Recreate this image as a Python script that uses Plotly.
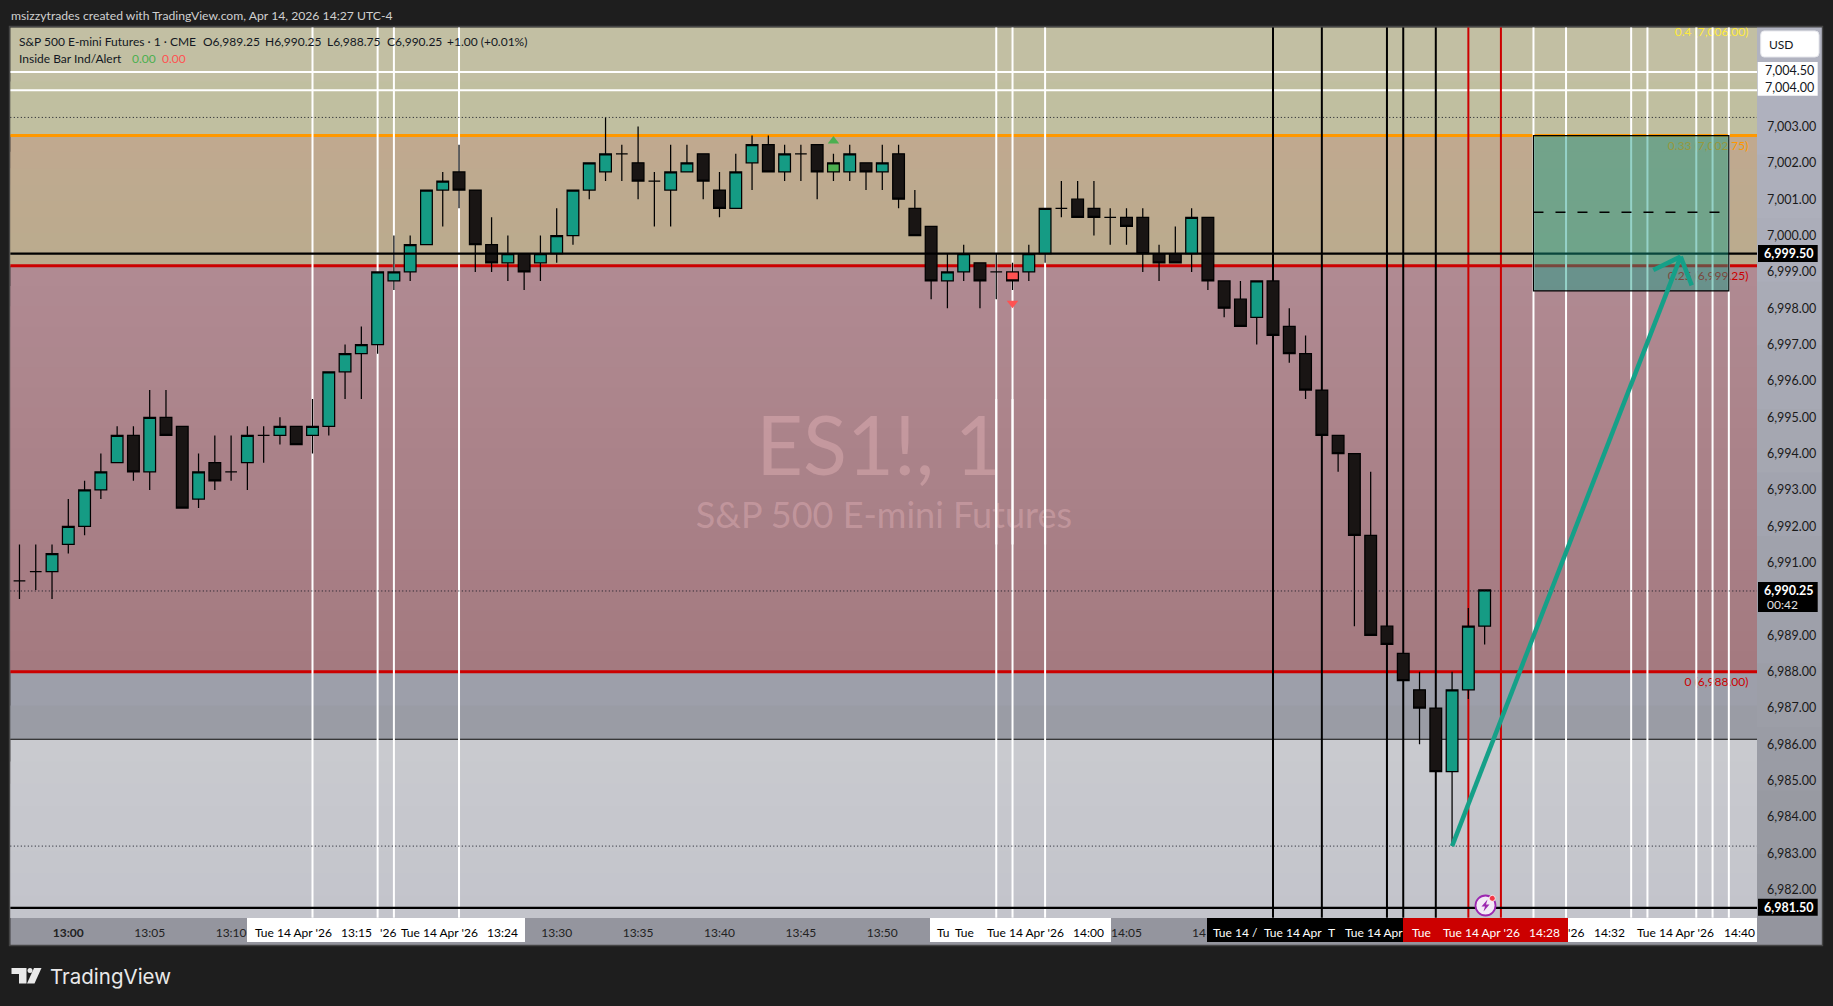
import plotly.graph_objects as go

W, H = 1833, 1006
PANE_L, PANE_R, PANE_T, PANE_B = 10.3, 1757.0, 27.3, 917.7
X_RANGE = [-3.563, 103.73]
Y_RANGE = [6981.23, 7005.73]
FONT = "Lato"

# ---------- candles (minutes after 13:00) ----------
minutes = list(range(-3, 88))
opens = [6990.5, 6990.75, 6990.75,
         6991.5, 6992.0, 6993.0, 6993.75, 6994.5, 6993.5, 6995.0, 6994.75, 6992.75, 6993.75,
         6993.5, 6993.75, 6994.5, 6994.5, 6994.75, 6994.5, 6994.75, 6996.25, 6996.75, 6997.0,
         6998.75, 6999.0, 6999.75, 7001.25, 7001.75, 7001.25, 6999.75, 6999.25, 6999.5, 6999.25,
         6999.5, 7000.0, 7001.25, 7001.75, 7002.25, 7002.0, 7001.5, 7001.25, 7001.75, 7002.25,
         7001.25, 7000.75, 7002.0, 7002.5, 7001.75, 7002.25, 7002.5, 7001.75, 7001.75, 7002.0,
         7001.75, 7002.25, 7000.75, 7000.25, 6998.75, 6999.0, 6999.25, 6999.0, 6999.0, 6999.0,
         6999.5, 7000.75, 7001.0, 7000.75, 7000.5, 7000.5, 7000.5, 6999.5, 6999.5, 6999.5,
         7000.5, 6998.75, 6998.25, 6997.75, 6998.75, 6997.5, 6996.75, 6995.75, 6994.5, 6994.0,
         6991.75, 6989.25, 6988.5, 6987.5, 6987.0, 6985.25, 6987.5, 6989.25]
highs = [6991.5, 6991.5, 6991.5,
         6992.75, 6993.25, 6994.0, 6994.75, 6994.75, 6995.75, 6995.75, 6994.75, 6994.0, 6994.5,
         6994.5, 6994.75, 6994.75, 6995.0, 6994.75, 6995.5, 6996.25, 6997.0, 6997.5, 6999.0,
         7000.0, 7000.0, 7001.25, 7001.75, 7002.5, 7001.25, 7000.5, 7000.0, 6999.5, 7000.0,
         7000.75, 7001.25, 7002.0, 7003.25, 7002.5, 7003.0, 7001.75, 7002.5, 7002.5, 7002.25,
         7001.75, 7002.25, 7002.75, 7002.75, 7002.5, 7002.5, 7002.5, 7002.25, 7002.5, 7002.0,
         7002.5, 7002.5, 7001.25, 7000.25, 6999.5, 6999.75, 6999.25, 6999.5, 6999.25, 6999.75,
         7000.75, 7001.5, 7001.5, 7001.5, 7000.75, 7000.75, 7000.75, 6999.75, 7000.25, 7000.75,
         7000.5, 6998.75, 6998.75, 6998.75, 6998.75, 6998.0, 6997.25, 6995.75, 6994.5, 6994.0,
         6993.5, 6989.25, 6988.5, 6988.0, 6987.0, 6988.0, 6989.75, 6990.25]
lows = [6990.0, 6990.25, 6990.0,
        6991.25, 6991.75, 6992.75, 6993.75, 6993.25, 6993.0, 6994.5, 6992.5, 6992.5, 6993.0,
        6993.25, 6993.0, 6993.75, 6994.25, 6994.25, 6994.0, 6994.5, 6995.5, 6995.5, 6996.75,
        6998.5, 6998.75, 6999.75, 7000.25, 7000.75, 6999.0, 6999.0, 6998.75, 6998.5, 6998.75,
        6999.25, 6999.75, 7001.0, 7001.5, 7001.5, 7001.0, 7000.25, 7000.25, 7001.75, 7001.0,
        7000.5, 7000.75, 7001.25, 7001.75, 7001.5, 7001.5, 7001.0, 7001.5, 7001.5, 7001.25,
        7001.25, 7000.75, 7000.0, 6998.25, 6998.0, 6998.75, 6998.0, 6998.25, 6998.5, 6998.75,
        6999.25, 7000.5, 7000.5, 7000.0, 6999.75, 6999.75, 6999.0, 6998.75, 6999.25, 6999.0,
        6998.5, 6997.75, 6997.5, 6997.0, 6997.25, 6996.5, 6995.5, 6994.5, 6993.5, 6989.25,
        6989.0, 6988.75, 6987.75, 6986.0, 6985.25, 6983.2, 6987.25, 6988.75]
closes = [6990.5, 6990.75, 6991.25,
          6992.0, 6993.0, 6993.5, 6994.5, 6993.5, 6995.0, 6994.5, 6992.5, 6993.5, 6993.25,
          6993.5, 6994.5, 6994.5, 6994.75, 6994.25, 6994.75, 6996.25, 6996.75, 6997.0, 6999.0,
          6999.0, 6999.75, 7001.25, 7001.5, 7001.25, 6999.75, 6999.25, 6999.5, 6999.0, 6999.5,
          7000.0, 7001.25, 7002.0, 7002.25, 7002.25, 7001.5, 7001.5, 7001.75, 7002.0, 7001.5,
          7000.75, 7001.75, 7002.5, 7001.75, 7002.25, 7002.25, 7001.75, 7002.0, 7002.25, 7001.75,
          7002.0, 7001.0, 7000.0, 6998.75, 6999.0, 6999.5, 6998.75, 6999.0, 6998.75, 6999.5,
          7000.75, 7000.75, 7000.5, 7000.5, 7000.5, 7000.25, 6999.5, 6999.25, 6999.25, 7000.5,
          6998.75, 6998.0, 6997.5, 6998.75, 6997.25, 6996.75, 6995.75, 6994.5, 6994.0, 6991.75,
          6989.0, 6988.75, 6987.75, 6987.0, 6985.25, 6987.5, 6989.25, 6990.25]
green_bar_minute = 47
red_bar_minute = 58

# ---------- level lines ----------
level_orange = 7002.75
level_red_hi = 6999.17
level_red_lo = 6988.0
level_thin = 6986.14
level_black_hi = 6999.5
level_black_lo = 6981.5
levels_white = [7004.5, 7004.0]
levels_dotted = [7003.25, 6990.22, 6983.2]

verticals_white_left = [15, 19, 20, 24, 57, 58, 60]
verticals_black = [74, 77, 81, 82, 84]
verticals_red = [86, 88]
verticals_white_right = [90, 92, 96, 97, 100, 101, 102]

zone_x = [90, 102]
zone_y = [7002.75, 6998.48]
zone_mid = 7000.64
zone_mid_end = 101.5
arrow_x = [85.0, 99.04]
arrow_y = [6983.2, 6999.42]
head_x = [97.36, 99.72]
head_y = [6999.05, 6998.63]

# ---------- labels ----------
price_ticks = [6982, 6983, 6984, 6985, 6986, 6987, 6988, 6989, 6991, 6992, 6993, 6994, 6995,
               6996, 6997, 6998, 6999, 7000, 7001, 7002, 7003]
time_tick_vals = [0, 5, 10, 30, 35, 40, 45, 50, 65]
time_tick_text = ["<b>13:00</b>", "13:05", "13:10", "13:30", "13:35", "13:40", "13:45", "13:50", "14:05"]
fib_text = ["0.4 (7,006.00)", "0.33 (7,002.75)", "0.25 (6,999.25)", "0 (6,988.00)"]
fib_y = [7005.57, 7002.44, 6998.85, 6987.69]
fib_color = ["#FFEB3B", "#FF9800", "#CC0000", "#CC0000"]
fib_label_x = 103.2
watermark_text = ["ES1!, 1", "S&P 500 E-mini Futures"]
watermark_x = [49.8, 50.1]
watermark_y = [6993.97, 6992.2]
watermark_size = [81, 36]

white_time = [("Tue 14 Apr '26", 293), ("13:15", 356), ("'26", 387.5), ("Tue 14 Apr '26", 439), ("13:24", 502),
              ("Tu", 943), ("Tue", 964), ("Tue 14 Apr '26", 1025), ("14:00", 1088),
              ("'26", 1575.6), ("14:32", 1609.5), ("Tue 14 Apr '26", 1675.6), ("14:40", 1739)]
inv_time = [("Tue 14 /", 1235), ("Tue 14 Apr", 1293), ("T", 1331.5), ("Tue 14 Apr", 1374),
            ("Tue", 1421), ("Tue 14 Apr '26", 1481.5), ("14:28", 1544.6)]
header_parts = [("S&P 500 E-mini Futures · 1 · CME", 16.5), ("O6,989.25", 201), ("H6,990.25", 263),
                ("L6,988.75", 324.5), ("C6,990.25", 384.5), ("+1.00 (+0.01%)", 445)]


def PX(x):
    return x / W


def PY(y):
    return 1 - y / H


def mix(a, b, t):
    return "rgb(%d,%d,%d)" % tuple(round(a[i] + (b[i] - a[i]) * t) for i in range(3))


shapes, annos = [], []


def band(y0, y1, c0, c1, n=14):
    for i in range(n):
        shapes.append(dict(type="rect", xref="paper", yref="y", x0=PX(PANE_L), x1=PX(PANE_R),
                           y0=y0 + (y1 - y0) * i / n, y1=y1, line_width=0, layer="below",
                           fillcolor=mix(c0, c1, i / max(1, n - 1))))


def pixel_rect(x0, y0, x1, y1, color, layer="above", line=None):
    shapes.append(dict(type="rect", xref="paper", yref="paper", x0=PX(x0), x1=PX(x1), y0=PY(y0), y1=PY(y1),
                       fillcolor=color, layer=layer,
                       line=dict(width=line[1], color=line[0]) if line else dict(width=0)))


def hline(p, color, width, layer="below", dash=None):
    shapes.append(dict(type="line", xref="paper", yref="y", x0=PX(PANE_L), x1=PX(PANE_R), y0=p, y1=p,
                       layer=layer, line=dict(color=color, width=width, dash=dash)))


def vline(m, color, width, layer="below"):
    shapes.append(dict(type="line", xref="x", yref="paper", x0=m, x1=m, y0=PY(PANE_B), y1=PY(PANE_T),
                       layer=layer, line=dict(color=color, width=width)))


def text(t, x, y, color="#1a1a1a", size=12, anchor="center", font=FONT):
    annos.append(dict(text=t, xref="paper", yref="paper", x=PX(x), y=PY(y), showarrow=False,
                      xanchor=anchor, yanchor="middle", font=dict(color=color, size=size, family=font)))


# pane and axis backgrounds
n_axis = 14
for i in range(n_axis):
    pixel_rect(PANE_R, PANE_T + (PANE_B - PANE_T) * i / n_axis, 1822, PANE_B,
               mix((177, 179, 192), (150, 152, 160), i / (n_axis - 1)), layer="below")
pixel_rect(PANE_L, PANE_B, 1822, 945, "#94959E", layer="below")
band(Y_RANGE[1], level_orange, (194, 191, 163), (192, 191, 160), 2)
band(level_orange, level_red_hi, (192, 169, 143), (186, 171, 142), 8)
band(level_red_hi, level_red_lo, (176, 138, 146), (164, 122, 128), 20)
band(level_red_lo, level_thin, (157, 159, 170), (154, 156, 165), 2)
band(level_thin, Y_RANGE[0], (201, 202, 207), (195, 196, 203), 8)

hline(level_orange, "#FF9800", 3)
hline(level_red_hi, "#CC0000", 3)
hline(level_red_lo, "#CC0000", 3)
hline(level_thin, "#111111", 1.1)
for p in levels_white:
    hline(p, "#FFFFFF", 2)
for m in verticals_white_left:
    vline(m, "#FFFFFF", 2)
for m in verticals_black:
    vline(m, "#000000", 2)
for m in verticals_red:
    vline(m, "#CC0000", 2)
for m in verticals_white_right:
    vline(m, "#FFFFFF", 2, layer="above")
# white lines pass over the watermark text
for m in verticals_white_left[4:]:
    shapes.append(dict(type="line", xref="x", yref="y", x0=m, x1=m, y0=6991.5, y1=6995.5,
                       layer="above", line=dict(color="#FFFFFF", width=2)))
for p in levels_dotted:
    hline(p, "#131722", 1, layer="above", dash="1px,2.5px")
hline(level_black_hi, "#000000", 2.2, layer="above")
hline(level_black_lo, "#000000", 2.2, layer="above")

# projection zone and arrow
shapes.append(dict(type="rect", xref="x", yref="y", x0=zone_x[0], x1=zone_x[1], y0=zone_y[0], y1=zone_y[1],
                   fillcolor="rgba(21,155,132,0.45)", line=dict(color="#000000", width=1.2), layer="above"))
shapes.append(dict(type="line", xref="x", yref="y", x0=zone_x[0], x1=zone_mid_end, y0=zone_mid, y1=zone_mid,
                   layer="above", line=dict(color="#000000", width=1.5, dash="10px,12px")))
arrow_line = dict(color="#15A088", width=4.5)
shapes.append(dict(type="line", xref="x", yref="y", x0=arrow_x[0], x1=arrow_x[1], y0=arrow_y[0], y1=arrow_y[1],
                   layer="above", line=arrow_line))
for hx, hy in zip(head_x, head_y):
    shapes.append(dict(type="line", xref="x", yref="y", x0=hx, x1=arrow_x[1], y0=hy, y1=arrow_y[1],
                       layer="above", line=arrow_line))

# time axis highlight boxes
pixel_rect(247, 918, 525, 942, "#FFFFFF")
pixel_rect(930, 918, 1111, 942, "#FFFFFF")
pixel_rect(1207, 918, 1403, 942, "#000000")
pixel_rect(1403, 918, 1568, 942, "#CC0000")
pixel_rect(1568, 918, 1757, 942, "#FFFFFF")
for t, x in white_time:
    text(t, x, 932, "#000000", 12)
for t, x in inv_time:
    text(t, x, 932, "#FFFFFF", 12)
text("14", 1198.5, 932, "#222222", 12)

# price axis highlight boxes
pixel_rect(1757.7, 62, 1817.7, 95.7, "#FFFFFF")
pixel_rect(1758, 245, 1817.7, 262, "#000000")
pixel_rect(1758, 582, 1817.7, 612, "#000000")
pixel_rect(1758, 898.7, 1817.7, 915.7, "#000000")
shapes.append(dict(type="path", xref="paper", yref="paper", layer="above", fillcolor="#FFFFFF",
                   line=dict(color="#E6E7EC", width=1),
                   path="M %f %f L %f %f Q %f %f %f %f L %f %f Q %f %f %f %f L %f %f Q %f %f %f %f L %f %f Q %f %f %f %f Z" % (
                       PX(1764), PY(31), PX(1815), PY(31), PX(1819), PY(31), PX(1819), PY(35), PX(1819), PY(53),
                       PX(1819), PY(57), PX(1815), PY(57), PX(1764), PY(57), PX(1760.7), PY(57), PX(1760.7), PY(53),
                       PX(1760.7), PY(35), PX(1760.7), PY(31), PX(1764), PY(31))))
text("USD", 1781, 44.5, "#131722", 12)
text("7,004.50", 1789.5, 70, "#131722", 12.5)
text("7,004.00", 1789.5, 87, "#131722", 12.5)
text("<b>6,999.50</b>", 1788.5, 253.5, "#FFFFFF", 12.5)
text("<b>6,990.25</b>", 1788.5, 590, "#FFFFFF", 12.5)
text("00:42", 1782, 604, "#E0E0E0", 12)
text("<b>6,981.50</b>", 1788.5, 907, "#FFFFFF", 12.5)

# alert icon
shapes.append(dict(type="circle", xref="paper", yref="paper", layer="above", x0=PX(1475.5), x1=PX(1495.5),
                   y0=PY(895.5), y1=PY(915.5), fillcolor="#F3E9F6", line=dict(color="#9C27B0", width=1.8)))
shapes.append(dict(type="path", xref="paper", yref="paper", layer="above", fillcolor="#9C27B0", line_width=0,
                   path="M %f %f L %f %f L %f %f L %f %f L %f %f L %f %f Z" % (
                       PX(1487.5), PY(899.5), PX(1481.5), PY(906.5), PX(1485), PY(906.5),
                       PX(1483.5), PY(911.5), PX(1489.5), PY(904.5), PX(1486), PY(904.5))))
shapes.append(dict(type="circle", xref="paper", yref="paper", layer="above", x0=PX(1489.3), x1=PX(1495.3),
                   y0=PY(895.3), y1=PY(901.3), fillcolor="#F23645", line=dict(color="#FFFFFF", width=0.8)))

# frame
pixel_rect(9.5, 26.5, 1822.5, 945.5, "rgba(0,0,0,0)", layer="above", line=("#454545", 1.4))

# TradingView logo
logo = "#E9E9E9"
shapes.append(dict(type="path", xref="paper", yref="paper", layer="above", fillcolor=logo, line_width=0,
                   path="M %f %f L %f %f L %f %f L %f %f L %f %f L %f %f Z" % (
                       PX(11.5), PY(968), PX(26.5), PY(968), PX(26.5), PY(983.5), PX(19), PY(983.5),
                       PX(19), PY(974), PX(11.5), PY(974))))
shapes.append(dict(type="circle", xref="paper", yref="paper", layer="above", fillcolor=logo, line_width=0,
                   x0=PX(27.5), x1=PX(32.5), y0=PY(968), y1=PY(973)))
shapes.append(dict(type="path", xref="paper", yref="paper", layer="above", fillcolor=logo, line_width=0,
                   path="M %f %f L %f %f L %f %f L %f %f Z" % (
                       PX(34), PY(968), PX(41.5), PY(968), PX(34.5), PY(983.5), PX(27), PY(983.5))))
text("TradingView", 48, 976.5, logo, 20.5, "left", "Inter")

# page texts
text("msizzytrades created with TradingView.com, Apr 14, 2026 14:27 UTC-4", 9, 15, "#D0D0D0", 12.2, "left")
for t, x in header_parts:
    text(t, x, 41.5, "#131722", 12, "left")
text("Inside Bar Ind/Alert", 16.5, 58.5, "#131722", 12, "left")
text("0.00", 130, 58.5, "#4CAF50", 12, "left")
text("0.00", 160, 58.5, "#FF5252", 12, "left")

fig = go.Figure()
idx_special = {green_bar_minute, red_bar_minute}
regular = [i for i, m in enumerate(minutes) if m not in idx_special]


def candles(ix, up, down):
    fig.add_trace(go.Candlestick(
        x=[minutes[i] for i in ix], open=[opens[i] for i in ix], high=[highs[i] for i in ix],
        low=[lows[i] for i in ix], close=[closes[i] for i in ix], showlegend=False, hoverinfo="skip",
        increasing=dict(fillcolor=up, line=dict(color="#000000", width=1.25)),
        decreasing=dict(fillcolor=down, line=dict(color="#000000", width=1.25))))


candles(regular, "#159B84", "#191514")
candles([minutes.index(green_bar_minute)], "#4CAF50", "#4CAF50")
candles([minutes.index(red_bar_minute)], "#FF5252", "#FF5252")

fig.add_trace(go.Scatter(x=[green_bar_minute], y=[7002.6], mode="markers", showlegend=False, hoverinfo="skip",
                         marker=dict(symbol="triangle-up", size=10, color="#4CAF50")))
fig.add_trace(go.Scatter(x=[red_bar_minute], y=[6998.14], mode="markers", showlegend=False, hoverinfo="skip",
                         marker=dict(symbol="triangle-down", size=10, color="#FF5252")))
fig.add_trace(go.Scatter(x=[fib_label_x] * len(fib_y), y=fib_y, text=fib_text, mode="text", showlegend=False,
                         hoverinfo="skip", textposition="middle left",
                         textfont=dict(color=fib_color, size=12, family=FONT)))
fig.add_trace(go.Scatter(x=watermark_x, y=watermark_y, text=watermark_text, mode="text", showlegend=False,
                         hoverinfo="skip", textposition="middle center",
                         textfont=dict(color="rgba(240,190,195,0.36)", size=watermark_size, family=FONT)))

fig.update_layout(
    width=W, height=H, margin=dict(l=0, r=0, t=0, b=0), autosize=False,
    paper_bgcolor="#1E1E1E", plot_bgcolor="rgba(0,0,0,0)", showlegend=False,
    boxmode="overlay", boxgap=0, boxgroupgap=0.28,
    font=dict(family=FONT, color="#1a1a1a", size=12), shapes=shapes, annotations=annos,
    xaxis=dict(domain=[PX(PANE_L), PX(PANE_R)], range=X_RANGE, rangeslider=dict(visible=False),
               showgrid=False, zeroline=False, showline=False, ticks="", tickmode="array",
               tickvals=time_tick_vals, ticktext=time_tick_text, ticklabelstandoff=6,
               tickfont=dict(color="#222222", size=12, family=FONT), anchor="y"),
    yaxis=dict(domain=[PY(PANE_B), PY(PANE_T)], range=Y_RANGE, side="right", showgrid=False, zeroline=False,
               showline=False, ticks="", tickmode="array", tickvals=price_ticks,
               ticktext=[f"{v:,.2f}" for v in price_ticks], ticklabelstandoff=9,
               tickfont=dict(color="#1a1a1a", size=12.5, family=FONT), anchor="x"),
)

assert len(minutes) == len(opens) == len(highs) == len(lows) == len(closes)
fig.write_html("out.html", config=dict(displayModeBar=False),
               post_script="document.body.style.margin='0';document.body.style.background='#1E1E1E';")
